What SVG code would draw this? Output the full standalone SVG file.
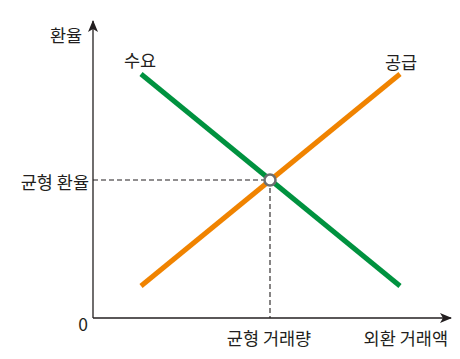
<svg xmlns="http://www.w3.org/2000/svg" width="460" height="359" viewBox="0 0 460 359">
<defs>
<style>
.t{font-family:"Noto Sans CJK KR","Noto Sans",sans-serif;font-size:17.5px;fill:#231f20}
.ax{stroke:#231f20;stroke-width:1.3;fill:none}
.dash{stroke:#231f20;stroke-width:1.1;stroke-dasharray:5,3;fill:none}
</style>
<marker id="ah" viewBox="0 0 12 10" refX="11" refY="5" markerWidth="12" markerHeight="10" markerUnits="userSpaceOnUse" orient="auto">
<path d="M0,0 L12,5 L0,10 L3,5 Z" fill="#231f20"/>
</marker>
</defs>
<rect width="460" height="359" fill="#fff"/>
<g id="axes">
<line class="ax" x1="93" y1="318" x2="93" y2="21" marker-end="url(#ah)"/>
<line class="ax" x1="93" y1="318" x2="451" y2="318" marker-end="url(#ah)"/>
</g>
<g id="connectors">
<line class="dash" x1="93" y1="180" x2="270" y2="180"/>
<line class="dash" x1="270" y1="180" x2="270" y2="318"/>
</g>
<g id="demand">
<line x1="141" y1="74" x2="400" y2="286" stroke="#00923f" stroke-width="5"/>
<text class="t" x="140" y="67" text-anchor="middle">수요</text>
</g>
<g id="supply">
<line x1="141" y1="286" x2="400" y2="74" stroke="#f08300" stroke-width="5"/>
<text class="t" x="401" y="69" text-anchor="middle">공급</text>
</g>
<g id="equilibrium">
<circle cx="270" cy="180" r="5.5" fill="#fff" stroke="#6d6e70" stroke-width="2.5"/>
</g>
<g id="labels">
<text class="t" x="66" y="42" text-anchor="middle">환율</text>
<text class="t" x="89" y="189" text-anchor="end">균형 환율</text>
<text class="t" x="88" y="331" text-anchor="end">0</text>
<text class="t" x="269" y="345" text-anchor="middle">균형 거래량</text>
<text class="t" x="448" y="345" text-anchor="end">외환 거래액</text>
</g>
</svg>
